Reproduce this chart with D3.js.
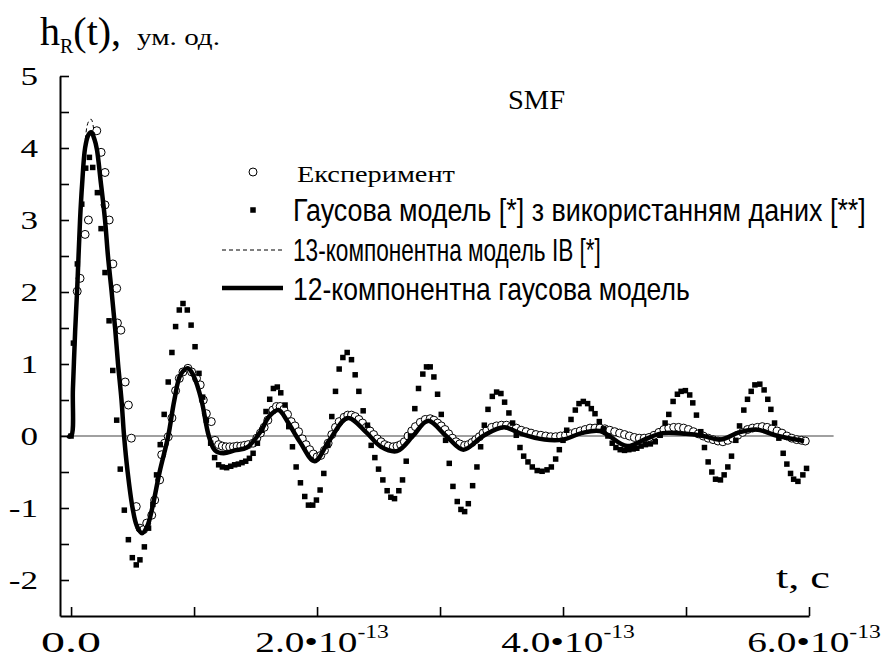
<!DOCTYPE html>
<html><head><meta charset="utf-8">
<script src="https://cdn.jsdelivr.net/npm/d3@7"></script>
<style>body{margin:0;background:#fff}svg{display:block}</style>
</head><body>
<svg id="chart" width="889" height="661"></svg>
<script>
// time in units of 1e-13 s
const tE = [0.05,0.073,0.114,0.141,0.209,0.244,0.276,0.276,0.31,0.34,
0.371,0.377,0.405,0.44,0.466,0.49,0.53,0.56,0.59,0.615,
0.656,0.68,0.72,0.737,0.76,0.79,0.82,0.85,0.88,0.91,
0.95,0.98,1.02,1.05,1.075,1.10,1.14,1.17,1.20,1.23,
1.26,1.29,1.32,1.35,1.38,1.41,1.44,1.48,1.51,1.54,
1.57,1.60,1.64,1.67,1.70,1.73,1.76,1.79,1.82,1.85,
1.88,1.91,1.94,1.97,2.00,2.03,2.06,2.09,2.12,2.15,
2.18,2.22,2.25,2.28,2.31,2.34,2.37,2.40,2.43,2.46,
2.49,2.52,2.55,2.58,2.62,2.65,2.68,2.71,2.74,2.77,
2.80,2.84,2.88,2.92,2.95,2.98,3.01,3.04,3.07,3.10,
3.13,3.16,3.20,3.23,3.26,3.29,3.32,3.35,3.38,3.42,
3.46,3.50,3.54,3.58,3.62,3.66,3.70,3.74,3.78,3.82,
3.86,3.90,3.94,3.98,4.02,4.06,4.10,4.14,4.18,4.22,
4.26,4.30,4.34,4.38,4.42,4.46,4.50,4.54,4.58,4.62,
4.66,4.70,4.74,4.78,4.82,4.86,4.90,4.94,4.98,5.02,
5.06,5.10,5.14,5.18,5.22,5.26,5.30,5.34,5.38,5.42,
5.46,5.50,5.54,5.58,5.62,5.66,5.70,5.74,5.78,5.82,
5.86,5.90,5.94,5.97];
const vE = [2.01,2.19,2.8,3.0,4.24,3.94,3.66,3.21,3.0,2.39,
2.05,1.57,1.47,0.75,0.43,-0.03,-0.98,-1.28,-1.3,-1.21,
-1.1,-0.89,-0.61,-0.26,-0.1,-0.01,0.25,0.63,0.8,0.89,
0.94,0.89,0.8,0.71,0.5,0.31,0.2,-0.06,-0.12,-0.14,
-0.15,-0.15,-0.15,-0.14,-0.14,-0.13,-0.12,-0.1,-0.03,0.04,
0.12,0.22,0.36,0.41,0.41,0.37,0.3,0.2,0.14,0.06,
-0.04,-0.12,-0.19,-0.25,-0.29,-0.27,-0.2,-0.1,0.02,0.12,
0.2,0.26,0.29,0.29,0.27,0.23,0.18,0.12,0.07,0.02,
-0.04,-0.08,-0.12,-0.14,-0.15,-0.14,-0.12,-0.08,0.0,0.07,
0.13,0.19,0.23,0.24,0.22,0.18,0.14,0.09,0.03,-0.03,
-0.08,-0.11,-0.13,-0.12,-0.09,-0.05,-0.01,0.04,0.08,0.12,
0.14,0.15,0.15,0.13,0.11,0.08,0.06,0.04,0.02,0.01,
0.0,-0.01,-0.01,0.0,0.01,0.03,0.05,0.07,0.09,0.11,
0.11,0.11,0.1,0.08,0.06,0.04,0.02,0.0,-0.02,-0.03,
-0.03,-0.02,0.01,0.05,0.09,0.11,0.12,0.12,0.11,0.09,
0.06,0.03,0.0,-0.03,-0.05,-0.07,-0.08,-0.06,-0.03,0.01,
0.05,0.09,0.11,0.12,0.13,0.12,0.1,0.07,0.04,0.0,
-0.03,-0.05,-0.06,-0.07];

const tG = [0.0,0.019,0.051,0.087,0.119,0.149,0.176,0.214,0.244,0.276,
0.309,0.339,0.371,0.40,0.433,0.466,0.498,0.53,0.56,0.596,
0.63,0.665,0.695,0.725,0.757,0.79,0.82,0.85,0.88,0.91,
0.945,0.976,1.008,1.04,1.07,1.10,1.135,1.167,1.2,1.23,
1.265,1.298,1.33,1.36,1.39,1.42,1.45,1.48,1.515,1.55,
1.585,1.615,1.645,1.677,1.705,1.74,1.77,1.80,1.83,1.865,
1.90,1.93,1.965,1.995,2.025,2.055,2.088,2.12,2.15,2.18,
2.21,2.245,2.28,2.31,2.34,2.375,2.41,2.44,2.47,2.5,
2.535,2.57,2.6,2.63,2.665,2.695,2.725,2.76,2.795,2.825,
2.86,2.89,2.92,2.95,2.98,3.01,3.045,3.075,3.105,3.14,
3.17,3.2,3.23,3.265,3.3,3.33,3.36,3.39,3.425,3.46,
3.495,3.525,3.56,3.59,3.62,3.65,3.68,3.715,3.75,3.79,
3.83,3.87,3.905,3.94,3.97,4.0,4.03,4.065,4.1,4.13,
4.165,4.2,4.23,4.26,4.295,4.33,4.365,4.4,4.43,4.465,
4.5,4.535,4.57,4.6,4.635,4.67,4.71,4.75,4.79,4.83,
4.86,4.895,4.93,4.96,4.995,5.03,5.055,5.085,5.12,5.15,
5.18,5.21,5.24,5.28,5.31,5.34,5.37,5.405,5.435,5.47,
5.5,5.53,5.56,5.6,5.635,5.665,5.69,5.72,5.755,5.79,
5.82,5.85,5.875,5.91,5.95,5.98];
const vG = [0.0,1.29,2.39,3.22,3.72,3.87,3.73,3.38,2.88,2.27,
1.6,0.91,0.22,-0.46,-1.03,-1.44,-1.69,-1.79,-1.72,-1.54,
-1.28,-0.95,-0.54,-0.12,0.3,0.75,1.16,1.52,1.75,1.84,
1.75,1.54,1.24,0.87,0.54,0.22,-0.1,-0.3,-0.4,-0.43,
-0.44,-0.42,-0.4,-0.39,-0.37,-0.35,-0.31,-0.24,-0.1,0.08,
0.34,0.51,0.66,0.68,0.6,0.43,0.13,-0.15,-0.43,-0.65,
-0.84,-0.96,-0.96,-0.89,-0.75,-0.52,-0.13,0.27,0.62,0.93,
1.09,1.16,1.06,0.85,0.62,0.35,0.15,-0.13,-0.3,-0.46,
-0.61,-0.76,-0.85,-0.87,-0.76,-0.61,-0.35,0.0,0.38,0.66,
0.86,0.96,0.96,0.82,0.58,0.3,-0.06,-0.38,-0.7,-0.91,
-1.02,-1.05,-0.94,-0.69,-0.43,-0.15,0.15,0.37,0.55,0.61,
0.59,0.47,0.32,0.18,0.01,-0.16,-0.28,-0.36,-0.43,-0.48,
-0.49,-0.47,-0.43,-0.32,-0.19,-0.06,0.08,0.23,0.36,0.45,
0.48,0.45,0.38,0.31,0.2,0.1,0.0,-0.1,-0.16,-0.19,
-0.2,-0.19,-0.18,-0.17,-0.14,-0.12,-0.11,-0.08,0.01,0.18,
0.3,0.48,0.58,0.62,0.63,0.57,0.46,0.29,0.06,-0.16,
-0.36,-0.5,-0.6,-0.61,-0.54,-0.43,-0.28,-0.06,0.14,0.36,
0.51,0.62,0.71,0.72,0.64,0.51,0.37,0.18,-0.03,-0.24,
-0.39,-0.52,-0.6,-0.63,-0.54,-0.45];

const tM = [-0.03,0.0,0.015,0.033,0.05,0.073,0.09,0.114,0.14,0.163,
0.19,0.21,0.24,0.276,0.30,0.33,0.358,0.382,0.41,0.431,
0.46,0.50,0.535,0.577,0.62,0.66,0.72,0.79,0.84,0.89,
0.95,1.0,1.06,1.12,1.17,1.24,1.33,1.43,1.54,1.61,
1.686,1.76,1.86,1.98,2.1,2.25,2.4,2.52,2.65,2.78,
2.9,3.05,3.19,3.35,3.52,3.66,3.85,4.0,4.15,4.3,
4.52,4.66,4.81,5.0,5.14,5.28,5.43,5.57,5.75,5.96];
// 12-component Gaussian model
const v12 = [0,0,0.65,1.45,2.05,3.0,3.5,4.0,4.18,4.22,
4.12,3.98,3.55,3.0,2.5,2.0,1.5,1.0,0.5,0.0,
-0.5,-1.0,-1.25,-1.35,-1.25,-1.0,-0.5,0.0,0.5,0.85,
0.94,0.82,0.5,0.0,-0.2,-0.24,-0.2,-0.16,0.06,0.27,
0.36,0.2,-0.08,-0.35,-0.06,0.25,0.05,-0.15,-0.21,0.0,
0.21,0.0,-0.19,0.0,0.12,0.03,-0.05,-0.05,0.04,0.07,
-0.14,-0.05,0.04,0.03,0.0,-0.05,0.05,0.09,0.0,-0.07];
// 13-component model IB
const v13 = [0,0,0.7,1.5,2.1,3.05,3.6,4.1,4.36,4.40,
4.2,4.0,3.55,3.0,2.5,2.0,1.5,1.0,0.5,0.0,
-0.5,-1.0,-1.26,-1.36,-1.26,-1.0,-0.5,0.0,0.5,0.86,
0.95,0.83,0.5,0.0,-0.2,-0.24,-0.2,-0.16,0.06,0.27,
0.37,0.2,-0.08,-0.35,-0.06,0.25,0.05,-0.15,-0.21,0.0,
0.21,0.0,-0.19,0.0,0.12,0.03,-0.05,-0.05,0.04,0.07,
-0.14,-0.05,0.04,0.03,0.0,-0.05,0.05,0.09,0.0,-0.07];

const xTickVals = [0,1,2,3,4,5,6];
const xLabelVals = [0,2,4,6];
const yTickVals = [-2,-1.5,-1,-0.5,0,0.5,1,1.5,2,2.5,3,3.5,4,4.5,5];
const yLabelVals = [-2,-1,0,1,2,3,4,5];
const legendLabels = ["Експеримент","Гаусова модель [*] з використанням даних [**]","13-компонентна модель IB [*]","12-компонентна гаусова модель"];

const svg = d3.select('#chart');
const SERIF = "'Liberation Serif','Times New Roman',serif";
const SANS = "'Liberation Sans',Arial,sans-serif";
const x = d3.scaleLinear().domain([-0.09, 6]).range([60, 809]);
const y = d3.scaleLinear().domain([-2.5, 5]).range([616, 76]);

// place text at (px,py) and stretch horizontally to a target width
function fitText(g, px, py, width, size, family, str, anchor) {
  const t = g.append('text').attr('font-family', family).attr('font-size', size)
    .attr('fill', '#000').attr('text-anchor', anchor || 'start').text(str);
  const L = t.node().getComputedTextLength();
  t.attr('transform', `translate(${px},${py}) scale(${width / L},1)`);
  return t;
}

// zero line
svg.append('line').attr('x1', x(-0.09)).attr('x2', x(6.2)).attr('y1', y(0)).attr('y2', y(0))
  .attr('stroke', '#808080').attr('stroke-width', 1.5);

// axes
const gx = svg.append('g').attr('transform', `translate(0,${y(-2.5)})`)
  .call(d3.axisBottom(x).tickValues(xTickVals).tickSize(-9).tickSizeOuter(0).tickFormat(() => ''));
const gy = svg.append('g').attr('transform', `translate(${x(-0.09)},0)`)
  .call(d3.axisLeft(y).tickValues(yTickVals).tickSize(-9).tickSizeOuter(0).tickFormat(() => ''));
[gx, gy].forEach(g => {
  g.select('.domain').attr('stroke', '#000').attr('stroke-width', 2);
  g.selectAll('.tick line').attr('stroke', '#000').attr('stroke-width', 1.6);
});

// x labels
xLabelVals.forEach(v => {
  const t = svg.append('text').attr('transform', `translate(${x(v) + (v === 0 ? 0 : 5)},652) scale(1.31,1)`)
    .attr('text-anchor', 'middle').attr('font-family', SERIF).attr('font-size', 30).attr('fill', '#000');
  if (v === 0) { t.attr('transform', `translate(${x(v)},652) scale(1.6,1)`).text('0.0'); }
  else {
    t.append('tspan').text(v + '.0\u202210');
    t.append('tspan').attr('dy', -14).attr('font-size', 18).text('-13');
  }
});
// y labels
yLabelVals.forEach(v => {
  svg.append('text').attr('transform', `translate(38,${y(v)}) scale(1.35,1)`)
    .attr('text-anchor', 'end').attr('dy', '0.35em').attr('font-family', SERIF)
    .attr('font-size', 26).attr('fill', '#000').text(v);
});

// title
const tt = svg.append('text').attr('x', 40).attr('y', 45).attr('font-family', SERIF).attr('font-size', 40).attr('fill', '#000');
tt.append('tspan').text('h');
tt.append('tspan').attr('font-size', 20).attr('dy', 8).text('R');
tt.append('tspan').attr('dy', -8).text('(t),');
fitText(svg, 137, 45, 83, 24, SERIF, 'ум. од.');
fitText(svg, 508, 109, 57, 28, SERIF, 'SMF');
fitText(svg, 776, 588, 54, 32, SERIF, 't, c');

// data marks
const expData = tE.map((t, i) => [t, vE[i]]);
const gData = tG.map((t, i) => [t, vG[i]]);
const m12 = tM.map((t, i) => [t, v12[i]]);
const m13 = tM.map((t, i) => [t, v13[i]]);
const line = d3.line().x(d => x(d[0])).y(d => y(d[1])).curve(d3.curveCatmullRom.alpha(0.5));

svg.append('g').selectAll('circle').data(expData).join('circle')
  .attr('cx', d => x(d[0])).attr('cy', d => y(d[1])).attr('r', 4)
  .attr('fill', '#fff').attr('stroke', '#000').attr('stroke-width', 1);
svg.append('path').datum(m13).attr('d', line).attr('fill', 'none').attr('stroke', '#000')
  .attr('stroke-width', 1).attr('stroke-dasharray', '4,3');
svg.append('path').datum(m12).attr('d', line).attr('fill', 'none').attr('stroke', '#000')
  .attr('stroke-width', 4.5).attr('stroke-linejoin', 'round');
const SQ = 5.5;
svg.append('g').selectAll('rect').data(gData).join('rect')
  .attr('x', d => x(d[0]) - SQ / 2).attr('y', d => y(d[1]) - SQ / 2).attr('width', SQ).attr('height', SQ).attr('fill', '#000');

// legend
const lg = svg.append('g');
lg.append('circle').attr('cx', 253).attr('cy', 172).attr('r', 4).attr('fill', '#fff').attr('stroke', '#000');
fitText(lg, 297, 182, 158, 24, SERIF, legendLabels[0]);
lg.append('rect').attr('x', 253 - SQ / 2).attr('y', 210 - SQ / 2).attr('width', SQ).attr('height', SQ).attr('fill', '#000');
fitText(lg, 293, 221, 573, 31, SANS, legendLabels[1]);
lg.append('line').attr('x1', 222).attr('x2', 283).attr('y1', 250).attr('y2', 250).attr('stroke', '#000')
  .attr('stroke-width', 1).attr('stroke-dasharray', '4,3');
fitText(lg, 293, 261, 308, 31, SANS, legendLabels[2]);
lg.append('line').attr('x1', 222).attr('x2', 283).attr('y1', 288).attr('y2', 288).attr('stroke', '#000')
  .attr('stroke-width', 4.5);
fitText(lg, 293, 300, 397, 31, SANS, legendLabels[3]);
</script>
</body></html>
